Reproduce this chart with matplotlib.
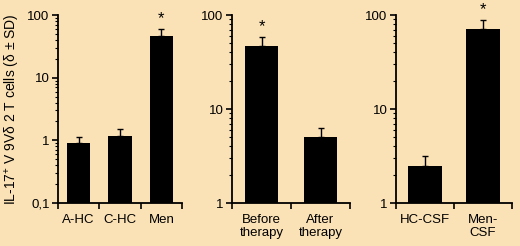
import matplotlib
matplotlib.use("Agg")
import matplotlib.pyplot as plt
from matplotlib.ticker import LogLocator, FixedLocator, NullFormatter

plt.rcParams['font.family'] = ['Liberation Sans', 'DejaVu Sans']
plt.rcParams['mathtext.fontset'] = 'custom'
plt.rcParams['mathtext.rm'] = 'Liberation Sans'

BG = "#FBE2B6"

# panel 1: blood of adult / child healthy controls vs meningitis
cats1 = ["A-HC", "C-HC", "Men"]
vals1 = [0.9, 1.17, 46]
err1 = [0.22, 0.35, 14]
star1 = [False, False, True]

# panel 2: before / after therapy
cats2 = ["Before\ntherapy", "After\ntherapy"]
vals2 = [47, 5.0]
err2 = [11, 1.3]
star2 = [True, False]

# panel 3: CSF
cats3 = ["HC-CSF", "Men-\nCSF"]
vals3 = [2.5, 71]
err3 = [0.7, 17]
star3 = [False, True]

ylabel = "IL-17$^{+}$ V 9V\u03b4 2 T cells (\u03b4 \u00b1 SD)"

W, H = 520, 246
fig = plt.figure(figsize=(W / 100, H / 100), dpi=100)
fig.patch.set_facecolor(BG)


def panel(left, width, cats, vals, errs, stars, ymin, ticks, ticklabels):
    ax = fig.add_axes([left / W, (H - 203) / H, width / W, 188 / H])
    ax.set_facecolor(BG)
    n = len(cats)
    x = list(range(n))
    ax.bar(x, vals, width=0.57, color="black", zorder=2)
    ax.errorbar(x, vals, yerr=[[0] * n, errs], fmt="none", ecolor="black",
                elinewidth=1, capsize=2.5, capthick=1, zorder=1)
    for xi, v, e, s in zip(x, vals, errs, stars):
        if s:
            ax.annotate("*", xy=(xi, v + e), xytext=(0, 2), textcoords="offset points",
                        ha="center", va="bottom", fontsize=12)
    ax.set_yscale("log")
    ax.set_ylim(ymin, 100)
    ax.set_xlim(-0.5, n - 0.5)
    ax.yaxis.set_major_locator(FixedLocator(ticks))
    ax.set_yticklabels(ticklabels)
    ax.yaxis.set_minor_locator(LogLocator(base=10, subs=range(2, 10)))
    ax.yaxis.set_minor_formatter(NullFormatter())
    ax.set_xticks(x)
    ax.set_xticklabels(cats, fontsize=9.5, linespacing=1.15)
    ax.set_xticks([i - 0.5 for i in range(n + 1)], minor=True)
    ax.tick_params(axis="x", which="major", length=0, pad=8)
    ax.tick_params(axis="x", which="minor", length=4, width=1.2, direction="out")
    ax.tick_params(axis="y", which="major", length=4, width=1.2, labelsize=9.5, pad=2)
    ax.tick_params(axis="y", which="minor", length=2.5, width=0.8)
    for s in ("top", "right"):
        ax.spines[s].set_visible(False)
    for s in ("left", "bottom"):
        ax.spines[s].set_linewidth(1.3)
    return ax


ax1 = panel(58, 124, cats1, vals1, err1, star1, 0.1,
            [0.1, 1, 10, 100], ["0,1", "1", "10", "100"])
ax1.set_ylabel(ylabel, fontsize=10, labelpad=4)
panel(232, 118, cats2, vals2, err2, star2, 1, [1, 10, 100], ["1", "10", "100"])
panel(396, 116, cats3, vals3, err3, star3, 1, [1, 10, 100], ["1", "10", "100"])

fig.savefig("out.png", dpi=100, facecolor=BG)
